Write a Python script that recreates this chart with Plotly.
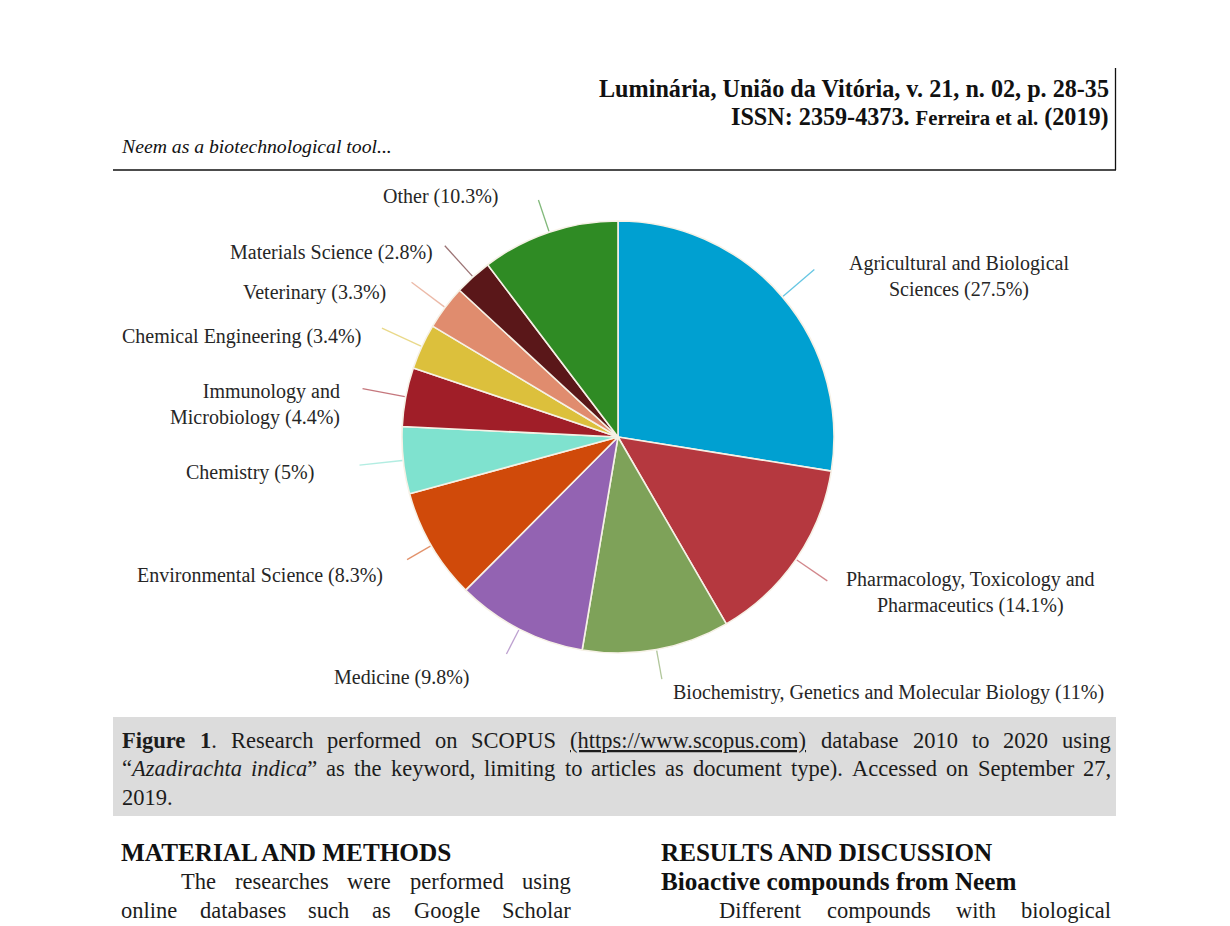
import math
import plotly.graph_objects as go

W, H = 1230, 926

# ---------------- data ----------------
categories = [
    "Agricultural and Biological Sciences",
    "Pharmacology, Toxicology and Pharmaceutics",
    "Biochemistry, Genetics and Molecular Biology",
    "Medicine",
    "Environmental Science",
    "Chemistry",
    "Immunology and Microbiology",
    "Chemical Engineering",
    "Veterinary",
    "Materials Science",
    "Other",
]
shares = [27.5, 14.1, 11, 9.8, 8.3, 5, 4.4, 3.4, 3.3, 2.8, 10.3]
share_text = ["27.5%", "14.1%", "11%", "9.8%", "8.3%", "5%", "4.4%", "3.4%", "3.3%", "2.8%", "10.3%"]

# ---------------- styles / layout ----------------
colors = ["#00a0d1", "#b5383f", "#7ea259", "#9363b2", "#d04a0a", "#7fe2cf",
          "#a01e28", "#dcc03c", "#e08c6e", "#5a1719", "#2f8b24"]
label_breaks = [3, 3, 0, 0, 0, 0, 2, 0, 0, 0, 0]
label_pos = [(959, 276, "center"), (970, 592, "center"), (888, 692, "center"),
             (402, 677, "center"), (260, 575, "center"), (250, 472, "center"),
             (342, 405, "right"), (241, 336, "center"), (314, 293, "center"),
             (331, 252, "center"), (441, 196, "center")]
leader_len = [42, 38, 30, 28, 28, 44, 44, 44, 42, 42, 34]
CX, CY, R = 618, 437, 216
FONT = "Liberation Serif"
INK = "#1c1c1c"


def px(x):
    return x / W


def py(y):
    return 1 - y / H


# Times / Liberation Serif metrics (1/1000 em)
REG = dict(zip("ABCDEFGHIJKLMNOPQRSTUVWXYZ",
               [722, 667, 667, 722, 611, 556, 722, 722, 333, 389, 722, 611, 889, 722, 722, 556, 722, 667, 556, 611, 722, 722, 944, 722, 722, 611]))
REG.update(zip("abcdefghijklmnopqrstuvwxyz",
               [444, 500, 444, 500, 444, 333, 500, 500, 278, 278, 500, 278, 778, 500, 500, 500, 500, 333, 389, 278, 500, 500, 722, 500, 500, 444]))
BOLD = dict(zip("ABCDEFGHIJKLMNOPQRSTUVWXYZ",
                [722, 667, 722, 722, 667, 611, 778, 778, 389, 500, 778, 667, 944, 722, 778, 611, 778, 722, 556, 667, 722, 722, 1000, 722, 722, 667]))
BOLD.update(zip("abcdefghijklmnopqrstuvwxyz",
                [500, 556, 444, 556, 444, 333, 500, 556, 278, 333, 556, 278, 833, 556, 500, 556, 556, 444, 389, 333, 556, 500, 722, 500, 500, 444]))
ITAL = dict(zip("abcdefghijklmnopqrstuvwxyz",
                [500, 500, 444, 500, 444, 278, 500, 500, 278, 278, 444, 278, 722, 500, 500, 500, 500, 389, 389, 278, 500, 444, 667, 444, 444, 389]))
ITAL.update(zip("ABCDEFGHIJKLMNOPQRSTUVWXYZ",
                [611, 611, 667, 722, 611, 611, 722, 722, 333, 444, 667, 556, 833, 667, 722, 611, 722, 611, 500, 556, 722, 611, 833, 611, 556, 556]))
PUNCT = {" ": 250, ".": 250, ",": 250, ":": 278, ";": 278, "(": 333, ")": 333,
         "/": 278, "-": 333, "%": 833, "“": 444, "”": 444, "'": 180}
ACC = {"á": "a", "ã": "a", "ó": "o", "í": "i"}


def cw(ch, style):
    ch = ACC.get(ch, ch)
    if ch.isdigit():
        return 500
    table = BOLD if "b" in style else (ITAL if "i" in style else REG)
    if ch in table:
        return table[ch]
    if ch in PUNCT:
        if "b" in style and ch == "%":
            return 1000
        if "b" in style and ch == ":":
            return 333
        return PUNCT[ch]
    return 500


def seg_width(text, style, size):
    return sum(cw(c, style) for c in text) * size / 1000.0


def markup(text, style):
    if "b" in style:
        text = "<b>" + text + "</b>"
    if "i" in style:
        text = "<i>" + text + "</i>"
    if "u" in style:
        text = "<u>" + text + "</u>"
    return text


annotations = []
shapes = []


def add_text(x, y, text, size, xanchor="left", align="left", color=INK):
    annotations.append(dict(x=px(x), y=py(y), xref="paper", yref="paper", text=text,
                            showarrow=False, xanchor=xanchor, yanchor="middle", align=align,
                            font=dict(family=FONT, size=size, color=color)))


def justify(words, x0, x1, y, size):
    """words: list of lists of (text, style) segments."""
    em = sum(sum(cw(c, s) for c in t) for w in words for t, s in w) / 1000.0
    em += 0.25 * (len(words) - 1)
    size = min(size, (x1 - x0) / em)
    widths = [sum(seg_width(t, s, size) for t, s in w) for w in words]
    gap = (x1 - x0 - sum(widths)) / max(1, len(words) - 1)
    x = x0
    for w, wd in zip(words, widths):
        add_text(x - 1, y, "".join(markup(t, s) for t, s in w), size)
        x += wd + gap


def plain_words(s, style="r"):
    return [[(w, style)] for w in s.split()]


# ---------------- pie ----------------
fig = go.Figure(go.Pie(
    values=shares, labels=categories, sort=False, direction="clockwise", rotation=0,
    marker=dict(colors=colors, line=dict(color="#f6f1e6", width=1.6)),
    textinfo="none", hoverinfo="label+percent", showlegend=False,
    domain=dict(x=[px(CX - R), px(CX + R)], y=[py(CY + R), py(CY - R)]),
))

total = sum(shares)
cum = 0.0
for i, v in enumerate(shares):
    theta = 2 * math.pi * (cum + v / 2) / total
    cum += v
    dx, dy = math.sin(theta), -math.cos(theta)
    r0, r1 = R + 1, R + leader_len[i]
    shapes.append(dict(type="line", xref="paper", yref="paper",
                       x0=px(CX + dx * r0), y0=py(CY + dy * r0),
                       x1=px(CX + dx * r1), y1=py(CY + dy * r1),
                       line=dict(color=colors[i], width=1.3), opacity=0.6))
    words = f"{categories[i]} ({share_text[i]})".split()
    b = label_breaks[i]
    txt = " ".join(words) if b == 0 else " ".join(words[:b]) + "<br>" + " ".join(words[b:])
    lx, ly, anc = label_pos[i]
    add_text(lx, ly, txt, 20, xanchor=anc, align=anc, color="#262626")

# ---------------- page header ----------------
hdr1 = "Luminária, União da Vitória, v. 21, n. 02, p. 28-35"
hs = 513 / (sum(cw(c, "b") for c in hdr1) / 1000.0)
add_text(1111, 88, "<b>" + hdr1 + "</b>", hs, xanchor="right", align="right", color="#111")
add_text(1111, 117, "<b>ISSN: 2359-4373. <span style='font-size:%.1fpx'>Ferreira et al.</span> (2019)</b>" % (hs * 0.86),
         hs, xanchor="right", align="right", color="#111")
run = "Neem as a biotechnological tool..."
rs = 270 / (sum(cw(c, "i") for c in run) / 1000.0)
add_text(119, 146, "<i>" + run + "</i>", rs, color="#111")
shapes.append(dict(type="line", xref="paper", yref="paper", x0=px(1115.5), x1=px(1115.5),
                   y0=py(68), y1=py(170), line=dict(color="#111", width=1.3)))
shapes.append(dict(type="line", xref="paper", yref="paper", x0=px(113), x1=px(1116),
                   y0=py(170), y1=py(170), line=dict(color="#111", width=1.5)))

# ---------------- caption box ----------------
shapes.append(dict(type="rect", xref="paper", yref="paper", x0=px(113), x1=px(1116),
                   y0=py(816), y1=py(717), fillcolor="#dcdcdc", line=dict(width=0), layer="below"))
CAP = 22.5
line1 = [[("Figure", "b")], [("1", "b"), (".", "r")]] + plain_words("Research performed on SCOPUS") + \
        [[("(https://www.scopus.com)", "u")]] + plain_words("database 2010 to 2020 using")
line2 = [[("“", "r"), ("Azadirachta", "i")], [("indica", "i"), ("”", "r")]] + \
        plain_words("as the keyword, limiting to articles as document type). Accessed on September 27,")
justify(line1, 121, 1110, 740, CAP)
justify(line2, 121, 1110, 768, CAP)
add_text(120, 797, "2019.", CAP)

# ---------------- body text ----------------
BODY = 22.5
for txt, x, w in [("MATERIAL AND METHODS", 120, 335), ("RESULTS AND DISCUSSION", 660, 335)]:
    s = w / (sum(cw(c, "b") for c in txt) / 1000.0)
    add_text(x - 1, 852, "<b>" + txt + "</b>", s, color="#111")
sub = "Bioactive compounds from Neem"
ss = 356 / (sum(cw(c, "b") for c in sub) / 1000.0)
add_text(659, 881, "<b>" + sub + "</b>", ss, color="#111")
justify(plain_words("The researches were performed using"), 180, 570, 881, BODY)
justify(plain_words("online databases such as Google Scholar"), 120, 570, 910, BODY)
justify(plain_words("Different compounds with biological"), 718, 1110, 910, BODY)

fig.update_layout(
    width=W, height=H, margin=dict(l=0, r=0, t=0, b=0),
    paper_bgcolor="white", plot_bgcolor="white",
    annotations=annotations, shapes=shapes, showlegend=False,
)

fig.write_html("out.html", config={"displayModeBar": False},
               post_script="document.body.style.margin='0';document.body.style.overflow='hidden';")
